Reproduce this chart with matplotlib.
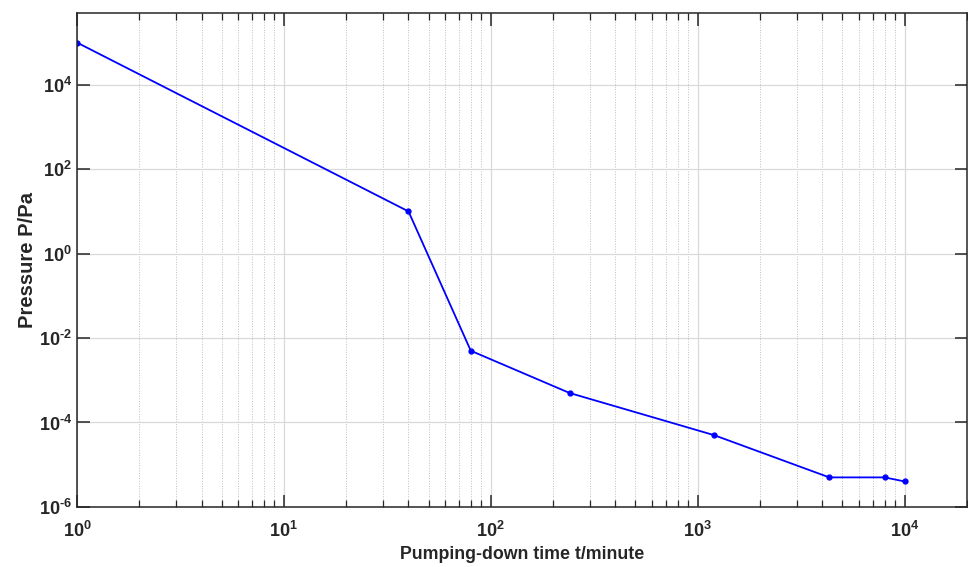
#!/usr/bin/env python3
"""pump-down curve, log-log"""

import math
import matplotlib
matplotlib.use("Agg")
import matplotlib.pyplot as plt
from matplotlib.ticker import LogLocator, FuncFormatter, NullLocator

# pumping-down time (minutes) and chamber pressure (Pa)
time_min = [1, 40, 80, 240, 1200, 4320, 8000, 10000]
pressure_pa = [1e5, 10, 5e-3, 5e-4, 5e-5, 5e-6, 5e-6, 4e-6]

x_ticks = [1, 10, 100, 1000, 10000]
y_ticks = [1e-6, 1e-4, 1e-2, 1e0, 1e2, 1e4]

plt.rcParams["font.family"] = ["Liberation Sans", "DejaVu Sans"]
plt.rcParams["mathtext.fontset"] = "custom"
plt.rcParams["mathtext.rm"] = "Liberation Sans:bold"
plt.rcParams["mathtext.bf"] = "Liberation Sans:bold"
plt.rcParams["mathtext.it"] = "Liberation Sans:bold"


def pow10(v, _pos):
    # MATLAB style labels, plain hyphen for the sign
    if v <= 0:
        return ""
    e = int(round(math.log10(v)))
    s = str(e).replace("-", "\u2010")
    return r"$\mathbf{10^{%s}}$" % s


fig = plt.figure(figsize=(9.68, 5.67), dpi=100)
ax = fig.add_axes([0.0795, 0.106, 0.9195, 0.871])

ax.plot(time_min, pressure_pa, color=(0, 0, 1), lw=1.3, marker=".", ms=7)

ax.set_xscale("log")
ax.set_yscale("log")
ax.set_xlim(1, 2e4)
ax.set_ylim(1e-6, 5e5)

ax.set_xticks(x_ticks)
ax.set_yticks(y_ticks)
ax.xaxis.set_minor_locator(LogLocator(base=10, subs=range(2, 10), numticks=20))
ax.yaxis.set_minor_locator(NullLocator())
ax.xaxis.set_major_formatter(FuncFormatter(pow10))
ax.yaxis.set_major_formatter(FuncFormatter(pow10))

ax.grid(which="major", color="#d9d9d9", lw=0.9, ls="-")
ax.grid(which="minor", axis="x", color="#bdbdbd", lw=0.7, ls=":")
ax.set_axisbelow(True)

ax.tick_params(which="both", direction="in", top=True, right=True,
               colors="#262626", labelsize=13)
ax.tick_params(which="major", length=9, width=1.1)
ax.tick_params(which="minor", length=5, width=0.9)
ax.tick_params(axis="x", which="major", pad=10)
ax.tick_params(axis="y", which="major", pad=3.5)
for s in ax.spines.values():
    s.set_color("#262626")
    s.set_linewidth(1.1)

ax.set_xlabel("Pumping-down time t/minute", fontsize=12.8, fontweight="bold",
              color="#262626", labelpad=4)
ax.set_ylabel("Pressure P/Pa", fontsize=14.5, fontweight="bold",
              color="#262626", labelpad=1)

fig.savefig("out.png", dpi=100)
